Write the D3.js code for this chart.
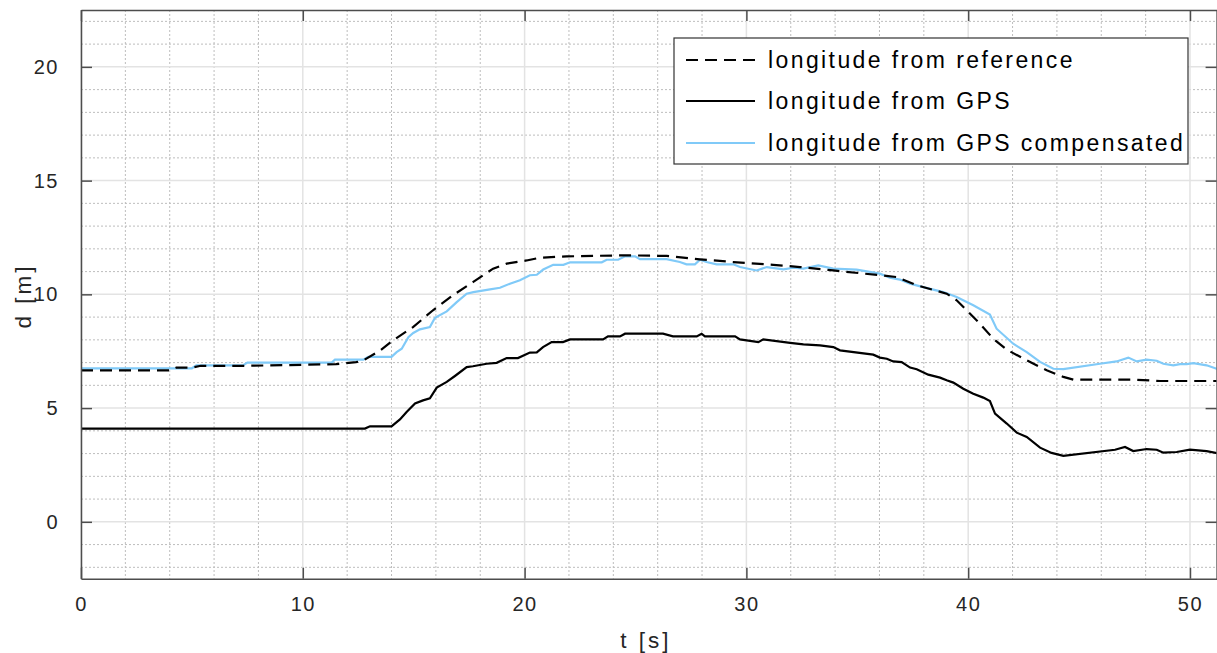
<!DOCTYPE html>
<html>
<head>
<meta charset="utf-8">
<script src="https://cdn.jsdelivr.net/npm/d3@7"></script>
<style>
body { margin: 0; background: #fff; }
text { font-family: "Liberation Sans", Arial, sans-serif; }
</style>
</head>
<body>
<div id="chart"></div>
<script>
// reference longitude
var tRef = [0, 4.0, 4.3, 5.0, 5.4, 7.5, 11.5, 12.4, 12.7, 13.5, 14.07, 14.97, 15.87, 16.77, 17.67, 18.58, 19.19, 20.09, 20.69, 21.9, 24.15, 24.9, 26.4, 27.9, 29.41, 31.21, 32.42, 33.92, 36.02, 36.78, 37.68, 39.03, 39.48, 39.93, 40.53, 41.13, 41.74, 42.64, 43.54, 44.29, 44.74, 47.44, 48.65, 51.3];
var dRef = [6.66, 6.66, 6.78, 6.78, 6.86, 6.86, 6.93, 7.02, 7.08, 7.54, 7.98, 8.56, 9.3, 9.96, 10.54, 11.13, 11.35, 11.49, 11.61, 11.67, 11.71, 11.71, 11.69, 11.54, 11.42, 11.3, 11.2, 11.05, 10.84, 10.76, 10.4, 10.03, 9.74, 9.3, 8.71, 8.05, 7.57, 7.1, 6.66, 6.37, 6.25, 6.25, 6.19, 6.19];

// GPS longitude
var tGps = [0, 12.8, 13.03, 14.0, 14.38, 14.68, 15.06, 15.42, 15.73, 16.04, 16.49, 16.86, 17.39, 17.67, 18.29, 18.74, 19.19, 19.7, 20.24, 20.55, 20.83, 21.22, 21.73, 22.05, 23.54, 23.76, 24.3, 24.53, 26.24, 26.69, 27.76, 27.98, 28.13, 29.49, 29.71, 30.54, 30.76, 31.97, 32.57, 33.32, 33.92, 34.22, 35.72, 36.02, 36.33, 36.62, 37.0, 37.38, 37.68, 38.2, 38.73, 39.03, 39.33, 39.78, 40.23, 40.68, 40.98, 41.21, 41.74, 42.19, 42.64, 43.24, 43.76, 44.29, 46.62, 47.07, 47.44, 48.05, 48.5, 48.8, 49.4, 50.0, 50.75, 51.3];
var dGps = [4.1, 4.1, 4.2, 4.2, 4.5, 4.83, 5.2, 5.34, 5.43, 5.9, 6.15, 6.41, 6.8, 6.84, 6.95, 6.99, 7.2, 7.2, 7.44, 7.45, 7.68, 7.9, 7.9, 8.02, 8.02, 8.15, 8.15, 8.27, 8.27, 8.15, 8.15, 8.27, 8.15, 8.15, 8.02, 7.9, 8.02, 7.87, 7.8, 7.76, 7.68, 7.54, 7.35, 7.22, 7.17, 7.05, 7.02, 6.78, 6.71, 6.47, 6.34, 6.22, 6.12, 5.85, 5.63, 5.46, 5.31, 4.76, 4.32, 3.92, 3.73, 3.26, 3.03, 2.9, 3.17, 3.29, 3.11, 3.2, 3.17, 3.04, 3.07, 3.17, 3.11, 3.0];

// GPS longitude compensated
var tComp = [0, 5.0, 5.2, 7.3, 7.5, 11.3, 11.45, 12.73, 12.95, 14.0, 14.23, 14.46, 14.76, 14.98, 15.28, 15.73, 15.96, 16.49, 16.94, 17.39, 17.69, 18.44, 18.89, 19.34, 19.79, 20.24, 20.55, 20.84, 21.29, 21.75, 22.05, 23.48, 23.7, 24.22, 24.53, 24.98, 25.2, 26.4, 27.0, 27.3, 27.68, 27.91, 28.2, 28.66, 29.41, 29.71, 30.46, 30.92, 31.67, 32.12, 32.57, 33.24, 33.92, 34.97, 36.02, 36.47, 36.92, 37.38, 37.97, 38.88, 39.48, 40.23, 40.98, 41.28, 42.03, 42.64, 43.24, 43.84, 44.29, 45.94, 46.69, 47.22, 47.6, 48.05, 48.5, 48.8, 49.25, 49.55, 49.85, 50.15, 50.75, 51.3];
var dComp = [6.75, 6.75, 6.88, 6.88, 7.0, 7.0, 7.13, 7.13, 7.25, 7.25, 7.46, 7.61, 8.12, 8.3, 8.46, 8.56, 8.97, 9.25, 9.66, 10.03, 10.1, 10.22, 10.29, 10.47, 10.62, 10.84, 10.86, 11.09, 11.3, 11.3, 11.41, 11.41, 11.52, 11.52, 11.67, 11.67, 11.55, 11.55, 11.42, 11.32, 11.32, 11.52, 11.42, 11.32, 11.32, 11.2, 11.05, 11.2, 11.1, 11.17, 11.13, 11.27, 11.13, 11.09, 10.91, 10.73, 10.65, 10.47, 10.32, 10.1, 9.88, 9.52, 9.11, 8.49, 7.83, 7.46, 7.03, 6.73, 6.71, 6.95, 7.05, 7.22, 7.05, 7.13, 7.08, 6.95, 6.88, 6.93, 6.93, 6.98, 6.88, 6.7];

var xTicks = [0, 10, 20, 30, 40, 50];
var yTicks = [0, 5, 10, 15, 20];
var legendLabels = ["longitude from reference", "longitude from GPS", "longitude from GPS compensated"];

var W = 1217, H = 653;
var pLeft = 81, pTop = 10, pRight = 1216.6, pBottom = 578.7;

var x = d3.scaleLinear().domain([0, 51.2]).range([pLeft, pRight]);
var y = d3.scaleLinear().domain([-2.5, 22.5]).range([pBottom, pTop]);

var svg = d3.select("#chart").append("svg")
	.attr("width", W)
	.attr("height", H);

svg.append("defs").append("clipPath").attr("id", "clip")
	.append("rect")
	.attr("x", pLeft).attr("y", pTop)
	.attr("width", pRight - pLeft).attr("height", pBottom - pTop);

// minor grid
var g = svg.append("g");
g.selectAll(".xminor").data(d3.range(2, 51.2, 2).filter(function(d){ return d % 10 != 0; }))
	.enter().append("line")
	.attr("x1", function(d){ return x(d); }).attr("x2", function(d){ return x(d); })
	.attr("y1", pTop).attr("y2", pBottom)
	.attr("stroke", "#bdbdbd").attr("stroke-width", 1).attr("stroke-dasharray", "2,2");
g.selectAll(".yminor").data(d3.range(-2, 23, 1).filter(function(d){ return d % 5 != 0; }))
	.enter().append("line")
	.attr("x1", pLeft).attr("x2", pRight)
	.attr("y1", function(d){ return y(d); }).attr("y2", function(d){ return y(d); })
	.attr("stroke", "#bdbdbd").attr("stroke-width", 1).attr("stroke-dasharray", "2,2");

// major grid
g.selectAll(".xmajor").data(xTicks).enter().append("line")
	.attr("x1", function(d){ return x(d); }).attr("x2", function(d){ return x(d); })
	.attr("y1", pTop).attr("y2", pBottom)
	.attr("stroke", "#e3e3e3").attr("stroke-width", 1.5);
g.selectAll(".ymajor").data(yTicks).enter().append("line")
	.attr("x1", pLeft).attr("x2", pRight)
	.attr("y1", function(d){ return y(d); }).attr("y2", function(d){ return y(d); })
	.attr("stroke", "#e3e3e3").attr("stroke-width", 1.5);

// lines
function series(ts, ds){
	return ts.map(function(t, i){ return [t, ds[i]]; });
}
var line = d3.line().x(function(d){ return x(d[0]); }).y(function(d){ return y(d[1]); });
var plot = svg.append("g").attr("clip-path", "url(#clip)");
plot.append("path").datum(series(tComp, dComp)).attr("d", line)
	.attr("fill", "none").attr("stroke", "#80caf8").attr("stroke-width", 2.2);
plot.append("path").datum(series(tGps, dGps)).attr("d", line)
	.attr("fill", "none").attr("stroke", "#000").attr("stroke-width", 2.2);
plot.append("path").datum(series(tRef, dRef)).attr("d", line)
	.attr("fill", "none").attr("stroke", "#000").attr("stroke-width", 2.2)
	.attr("stroke-dasharray", "12,7");

// axes box with inside ticks on all sides
var axisColor = "#4d4d4d";
function styleAxis(a){
	a.attr("font-size", null).attr("font-family", null);
	a.select(".domain").attr("stroke", axisColor).attr("stroke-width", 1.5);
	a.selectAll(".tick line").attr("stroke", axisColor).attr("stroke-width", 1.5);
	a.selectAll("text").attr("fill", "#262626").attr("font-size", 20)
		.style("letter-spacing", "1.5px");
}
svg.append("g").attr("transform", "translate(0," + pBottom + ")")
	.call(d3.axisBottom(x).tickValues(xTicks).tickSizeInner(-11).tickSizeOuter(0).tickPadding(18))
	.call(styleAxis);
svg.append("g").attr("transform", "translate(0," + pTop + ")")
	.call(d3.axisTop(x).tickValues(xTicks).tickSizeInner(-11).tickSizeOuter(0).tickFormat(""))
	.call(styleAxis);
svg.append("g").attr("transform", "translate(" + pLeft + ",0)")
	.call(d3.axisLeft(y).tickValues(yTicks).tickSizeInner(-11).tickSizeOuter(0).tickPadding(22))
	.call(styleAxis);
svg.append("g").attr("transform", "translate(" + pRight + ",0)")
	.call(d3.axisRight(y).tickValues(yTicks).tickSizeInner(-11).tickSizeOuter(0).tickFormat(""))
	.call(styleAxis);

// axis labels
svg.append("text").attr("x", 646).attr("y", 648)
	.attr("text-anchor", "middle").style("font-size", "22.5px").style("letter-spacing", "3px")
	.attr("fill", "#262626").text("t [s]");
svg.append("text").attr("transform", "translate(31,296) rotate(-90)")
	.attr("text-anchor", "middle").style("font-size", "22.5px").style("letter-spacing", "3px")
	.attr("fill", "#262626").text("d [m]");

// legend
var leg = svg.append("g");
leg.append("rect").attr("x", 674).attr("y", 38).attr("width", 514).attr("height", 126)
	.attr("fill", "#fff").attr("stroke", "#333").attr("stroke-width", 1.2);
var legY = [60, 101, 143];
var legStyle = [
	{ stroke: "#000", dash: "12,7" },
	{ stroke: "#000", dash: null },
	{ stroke: "#80caf8", dash: null }
];
legendLabels.forEach(function(lab, i){
	leg.append("line").attr("x1", 686).attr("x2", 755).attr("y1", legY[i]).attr("y2", legY[i])
		.attr("stroke", legStyle[i].stroke).attr("stroke-width", 2.2)
		.attr("stroke-dasharray", legStyle[i].dash);
	leg.append("text").attr("x", 768).attr("y", legY[i] + 8)
		.style("font-size", "23px").style("letter-spacing", "2.4px")
		.attr("fill", "#000").text(lab);
});
</script>
</body>
</html>
